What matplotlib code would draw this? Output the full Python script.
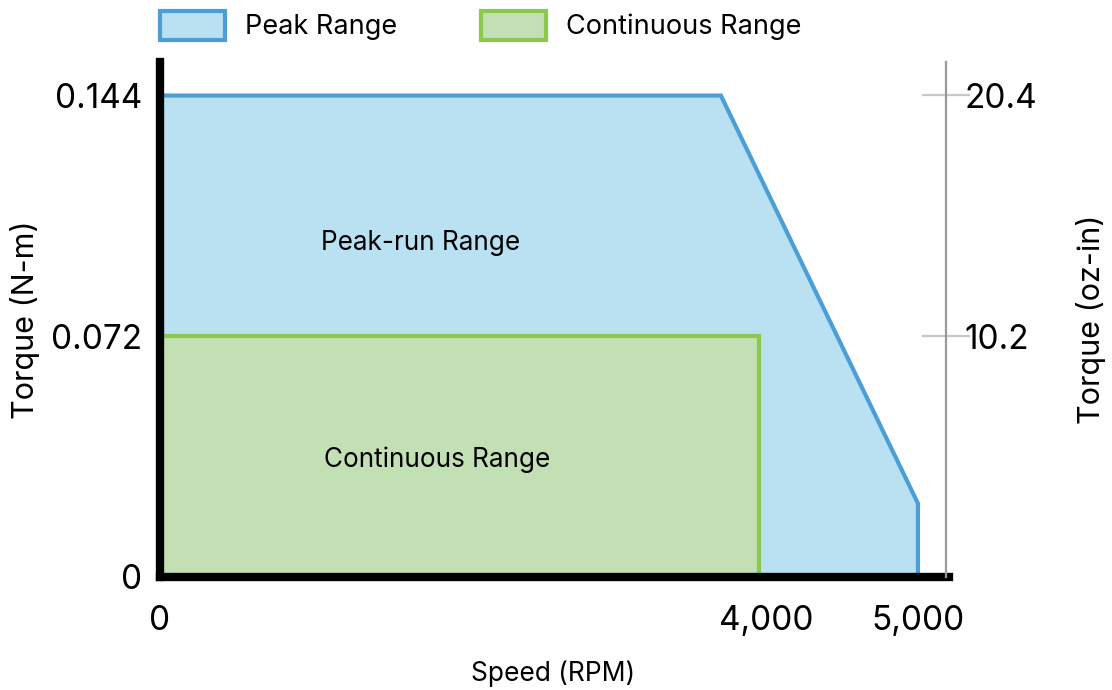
import matplotlib
matplotlib.use("Agg")
import matplotlib.pyplot as plt
from matplotlib.patches import Patch

plt.rcParams["font.family"] = ["Inter", "DejaVu Sans"]

# ---- data ----
peak_speed = [0, 3700, 5000, 5000]
peak_torque = [0.144, 0.144, 0.022, 0.0]
cont_speed = [0, 3950]
cont_torque = 0.072

x_ticks = [0, 4000, 5000]
x_labels = ["0", "4,000", "5,000"]
y_ticks = [0, 0.072, 0.144]
y_labels = ["0", "0.072", "0.144"]
oz_ticks = [10.2, 20.4]
oz_labels = ["10.2", "20.4"]
NM_TO_OZIN = 141.6

# ---- colours ----
PEAK_FILL, PEAK_EDGE = "#b9e1f2", "#4c9fd6"
CONT_FILL, CONT_EDGE = "#c3e0b4", "#8cc84b"

fig = plt.figure(figsize=(11.12, 6.9), dpi=100)
ax = fig.add_axes([0.1439, 0.1638, 0.7068, 0.7462])

x_max = 5185
y_max = 0.154
ax.set_xlim(0, x_max)
ax.set_ylim(0, y_max)

# peak region: fill down to zero, outline only the free edges
ax.fill(peak_speed + [0], peak_torque + [0.0], color=PEAK_FILL, lw=0, zorder=1)
ax.plot(peak_speed, peak_torque, color=PEAK_EDGE, lw=3, solid_joinstyle="miter", zorder=2)

# continuous region
ax.fill_between(cont_speed, 0, cont_torque, color=CONT_FILL, lw=0, zorder=3)
ax.plot([cont_speed[0], cont_speed[1], cont_speed[1]], [cont_torque, cont_torque, 0],
        color=CONT_EDGE, lw=3, solid_joinstyle="miter", zorder=4)

ax.text(1722, 0.0999, "Peak-run Range", fontsize=18.8, ha="center", va="center")
ax.text(1827, 0.035, "Continuous Range", fontsize=18.8, ha="center", va="center")

# axes styling
for s in ("top", "right"):
    ax.spines[s].set_visible(False)
for s in ("left", "bottom"):
    ax.spines[s].set_linewidth(6)
    ax.spines[s].set_color("black")
    ax.spines[s].set_zorder(6)
ax.spines["bottom"].set_bounds(0, x_max + 20)

ax.set_xticks(x_ticks)
ax.set_xticklabels(x_labels)
ax.set_yticks(y_ticks)
ax.set_yticklabels(y_labels)
ax.tick_params(axis="both", length=0, labelsize=24)
ax.tick_params(axis="y", pad=13)
ax.tick_params(axis="x", pad=20)

ax.set_ylabel("Torque (N-m)", fontsize=22, labelpad=8)
ax.set_xlabel("Speed (RPM)", fontsize=19, labelpad=17)

# secondary axis in oz-in
ax2 = ax.twinx()
ax2.set_ylim(0, y_max * NM_TO_OZIN)
for s in ("top", "left", "bottom"):
    ax2.spines[s].set_visible(False)
ax2.spines["right"].set_color("#999999")
ax2.spines["right"].set_linewidth(1.6)
ax2.set_yticks(oz_ticks)
ax2.set_yticklabels(oz_labels)
ax2.tick_params(axis="y", direction="inout", length=34, width=1.6,
                color="#c8c8c8", labelsize=24, pad=-4)
ax2.set_ylabel("Torque (oz-in)", fontsize=22, labelpad=28)

# legend
handles = [
    Patch(facecolor=PEAK_FILL, edgecolor=PEAK_EDGE, linewidth=3, label="Peak Range"),
    Patch(facecolor=CONT_FILL, edgecolor=CONT_EDGE, linewidth=3, label="Continuous Range"),
]
fig.legend(handles=handles, loc="upper left", bbox_to_anchor=(0.122, 1.02), ncol=2,
           frameon=False, fontsize=19.5, handlelength=2.4, handleheight=1.3,
           handletextpad=0.74, columnspacing=3.1)

fig.savefig("out.png", dpi=100)
